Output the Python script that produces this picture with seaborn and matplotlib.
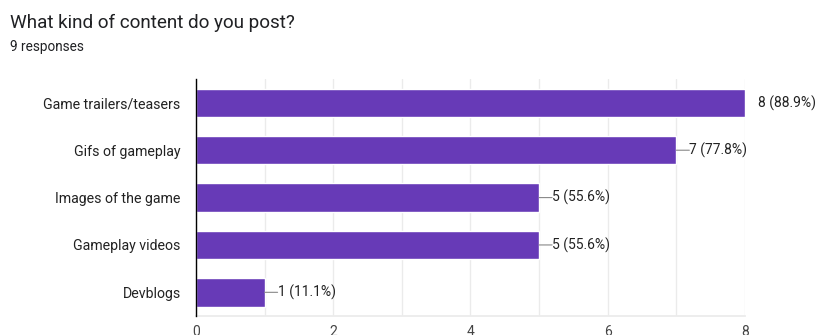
import matplotlib
matplotlib.use("Agg")
import matplotlib.pyplot as plt
import seaborn as sns
import pandas as pd
from matplotlib.ticker import MultipleLocator

categories = ["Game trailers/teasers", "Gifs of gameplay", "Images of the game",
              "Gameplay videos", "Devblogs"]
counts = [8, 7, 5, 5, 1]
percents = [88.9, 77.8, 55.6, 55.6, 11.1]
x_ticks = [0, 2, 4, 6, 8]
total_responses = 9

df = pd.DataFrame({"category": categories, "count": counts})

sns.set_theme(style="white")
plt.rcParams["font.family"] = ["Roboto", "DejaVu Sans"]

fig = plt.figure(figsize=(8.21, 3.35), dpi=100)
ax = fig.add_axes([0.2387, 0.0567, 0.6687, 0.707])

sns.barplot(data=df, x="count", y="category", orient="h", color="#673ab7",
            saturation=1, width=0.6, ax=ax, zorder=3)

ax.set_xlim(0, 8)
ax.set_ylim(len(categories) - 0.5, -0.5)
ax.set_xticks(x_ticks)
ax.xaxis.set_minor_locator(MultipleLocator(1))
ax.grid(axis="x", which="both", color="#ebebeb", linewidth=1, zorder=0)
ax.set_xlabel("")
ax.set_ylabel("")
for side in ["top", "right"]:
    ax.spines[side].set_visible(False)
ax.spines["bottom"].set_color("#ebebeb")
ax.spines["left"].set_color("#000000")
ax.spines["left"].set_linewidth(1)
ax.spines["left"].set_zorder(5)
ax.tick_params(axis="x", length=0, labelsize=10, labelcolor="#444444", pad=6.5)
ax.tick_params(axis="y", length=0, labelsize=10.2, labelcolor="#222222", pad=11)

# value labels with short leader lines
for i, (c, p) in enumerate(zip(counts, percents)):
    label = f"{c} ({p:.1f}%)"
    if c < ax.get_xlim()[1]:
        ax.annotate("", xy=(c, i), xytext=(13, 0), textcoords="offset pixels",
                    arrowprops=dict(arrowstyle="-", color="#888888", lw=0.8,
                                    shrinkA=0, shrinkB=0), annotation_clip=False)
    ax.annotate(label, xy=(c, i), xytext=(13, 0), textcoords="offset pixels",
                ha="left", va="center", fontsize=10, color="#222222",
                annotation_clip=False)

fig.text(10 / 821, 1 - 23 / 335, "What kind of content do you post?",
         fontsize=13.6, color="#202124", va="center", ha="left")
fig.text(10 / 821, 1 - 47 / 335, f"{total_responses} responses",
         fontsize=9.8, color="#202124", va="center", ha="left")

fig.savefig("out.png", dpi=100, facecolor="white")
